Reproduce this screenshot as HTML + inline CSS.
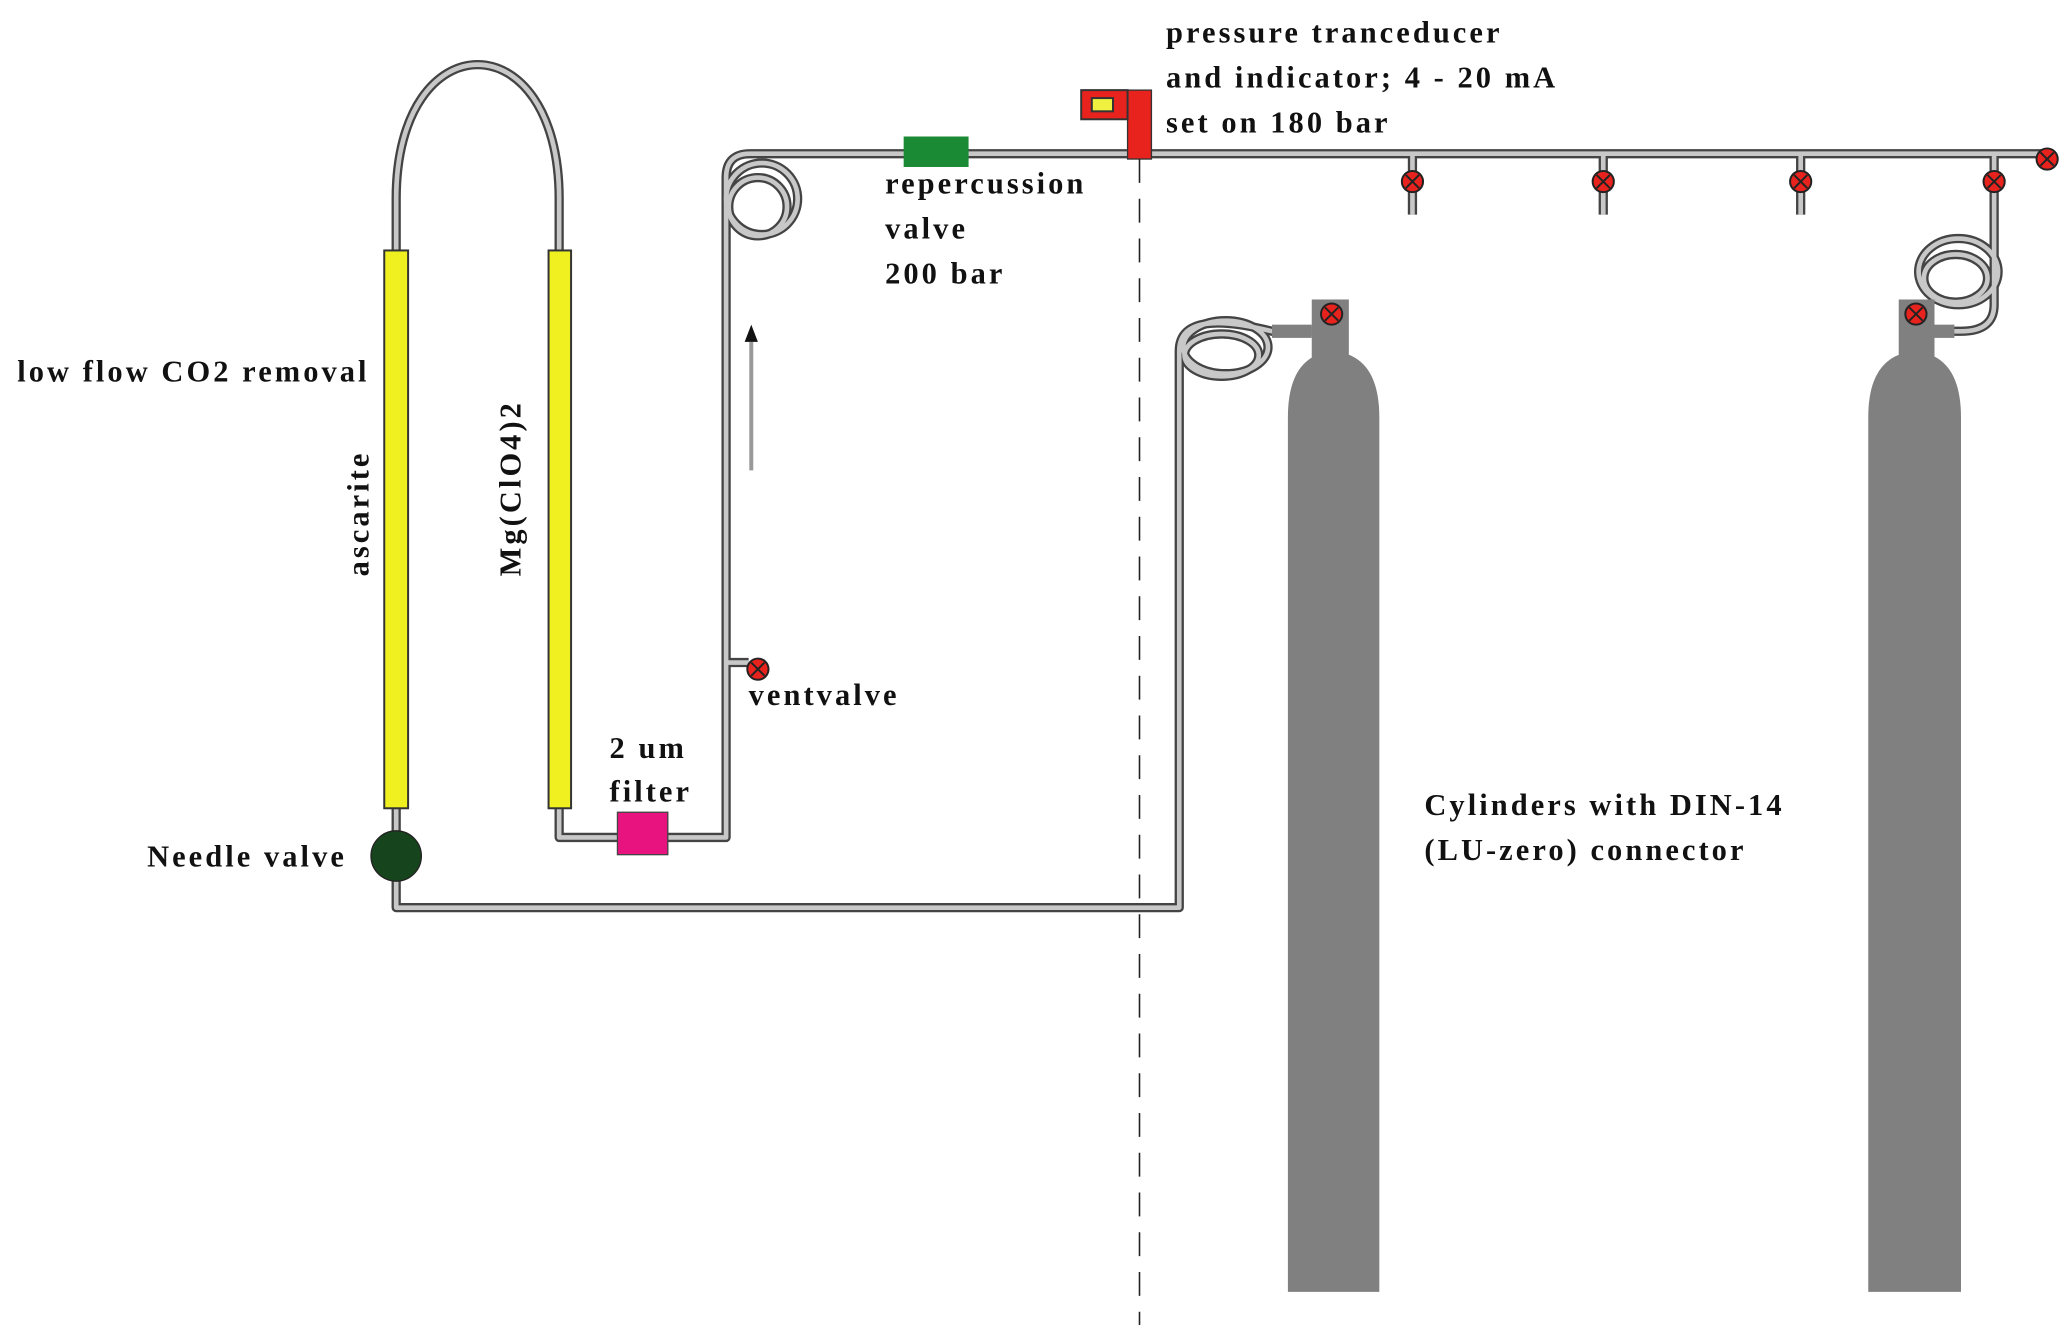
<!DOCTYPE html>
<html><head><style>html,body{margin:0;padding:0;background:#fff}svg{display:block}</style></head>
<body>
<svg width="2067" height="1335" viewBox="0 0 1560 1007.5" xmlns="http://www.w3.org/2000/svg" font-family="Liberation Serif, serif" font-weight="bold" font-size="23" letter-spacing="2.3">
<defs>
<g id="vx"><circle r="8" fill="#e8231e" stroke="#222" stroke-width="1.5"/><path d="M-5,-5L5,5M5,-5L-5,5" stroke="#222" stroke-width="1.5"/></g>
<g id="tubes">
<path d="M299,189 L299,150 C299,15 422,15 422,150 L422,189"/>
<path d="M299,610 L299,685 L890,685 L890,265 C890,240 920,240 960,250 L990,250"/>
<ellipse cx="925" cy="262" rx="32" ry="20"/>
<ellipse cx="922" cy="268" rx="28" ry="16"/>
<path d="M422,610 L422,632 L548,632 L548,134 Q548,116 566,116 L1545,116"/>
<circle cx="575" cy="150" r="27"/>
<circle cx="572" cy="156" r="22"/>
<path d="M548,500 L565,500"/>
<path d="M1066,116 L1066,162 M1210,116 L1210,162 M1359,116 L1359,162 M1505,116 L1505,230 Q1505,250 1480,250 L1460,250"/>
<ellipse cx="1478" cy="205" rx="30" ry="25"/>
<ellipse cx="1476" cy="210" rx="24" ry="18"/>
</g>
</defs>
<g fill="none" stroke-linejoin="round">
<use href="#tubes" stroke="#444" stroke-width="7"/>
<use href="#tubes" stroke="#c8c8c8" stroke-width="3.5"/>
</g>
<rect x="290" y="189" width="18" height="421" fill="#f0f020" stroke="#333" stroke-width="1.5"/>
<rect x="414" y="189" width="17" height="421" fill="#f0f020" stroke="#333" stroke-width="1.5"/>
<circle cx="299" cy="646" r="19" fill="#16451d" stroke="#222" stroke-width="1"/>
<rect x="466" y="613" width="38" height="32" fill="#e8137f" stroke="#444" stroke-width="1"/>
<rect x="682" y="103" width="49" height="23" fill="#1a8a35"/>
<rect x="851" y="68" width="18" height="52" fill="#e8231e" stroke="#333" stroke-width="1"/>
<rect x="816" y="68" width="35" height="22" fill="#e8231e" stroke="#333" stroke-width="1.5"/>
<rect x="824" y="74" width="16" height="10" fill="#f0f040" stroke="#333" stroke-width="1.5"/>
<line x1="860" y1="120" x2="860" y2="1000" stroke="#222" stroke-width="1.2" stroke-dasharray="18,12"/>
<line x1="567" y1="355" x2="567" y2="258" stroke="#999" stroke-width="3"/>
<path d="M567,245 L562,258 L572,258Z" fill="#111"/>
<g fill="#808080">
<rect x="990" y="226" width="28" height="45"/><rect x="960" y="245" width="30" height="10"/>
<path d="M972,975 L972,315 Q972,268 1006,265 Q1041,268 1041,315 L1041,975Z"/>
<rect x="1433" y="226" width="27" height="45"/><rect x="1460" y="245" width="15" height="10"/>
<path d="M1410,975 L1410,315 Q1410,268 1445,265 Q1480,268 1480,315 L1480,975Z"/>
</g>
<use href="#vx" x="1005" y="237"/><use href="#vx" x="1446" y="237"/>
<use href="#vx" x="1066" y="137"/><use href="#vx" x="1210" y="137"/><use href="#vx" x="1359" y="137"/><use href="#vx" x="1505" y="137"/><use href="#vx" x="1545" y="120"/>
<use href="#vx" x="572" y="505"/>
<g fill="#111">
<text x="880" y="32">pressure tranceducer</text>
<text x="880" y="66">and indicator; 4 - 20 mA</text>
<text x="880" y="100">set on 180 bar</text>
<text x="668" y="146">repercussion</text>
<text x="668" y="180">valve</text>
<text x="668" y="214">200 bar</text>
<text x="13" y="288">low flow CO2 removal</text>
<text x="565" y="532">ventvalve</text>
<text x="460" y="572">2 um</text>
<text x="460" y="605">filter</text>
<text x="111" y="654">Needle valve</text>
<text x="1075" y="615">Cylinders with DIN-14</text>
<text x="1075" y="649">(LU-zero) connector</text>
<text transform="translate(278,435) rotate(-90)">ascarite</text>
<text transform="translate(393,435) rotate(-90)">Mg(ClO4)2</text>
</g>
</svg>
</body></html>
